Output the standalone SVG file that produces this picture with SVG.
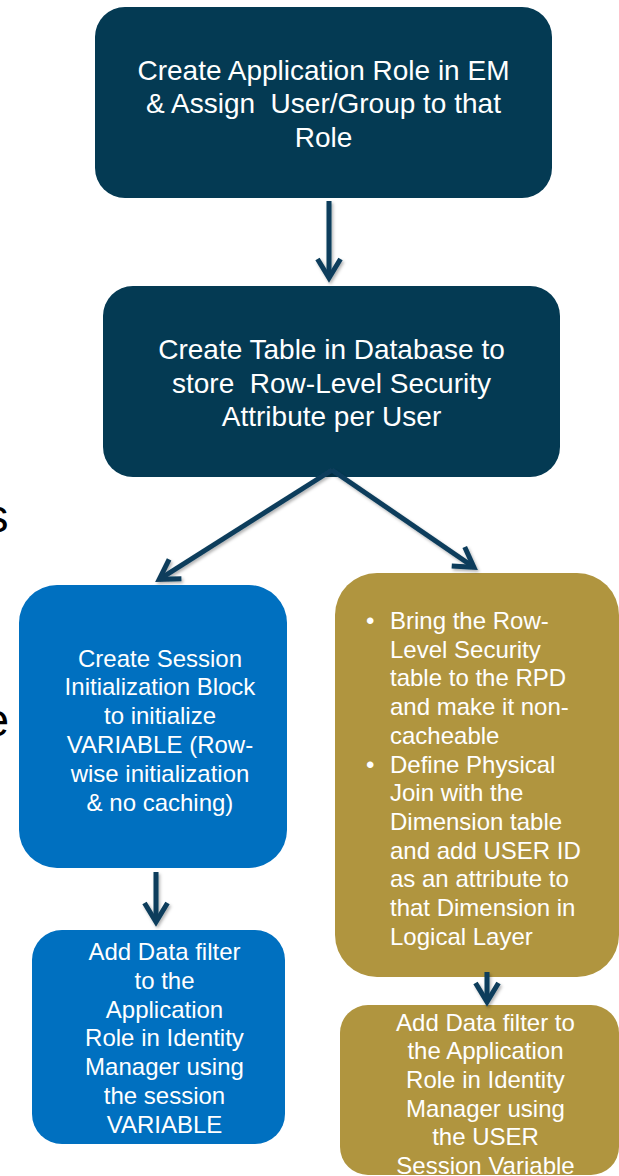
<svg xmlns="http://www.w3.org/2000/svg" width="619" height="1176" viewBox="0 0 619 1176">
  <defs>
    <style>
      .navy { fill: #043A53; }
      .blue { fill: #0070C0; }
      .gold { fill: #B0953F; }
      .t { font-family: "Liberation Sans", Arial, sans-serif; fill: #FFFFFF; white-space: pre; }
      .t28 { font-size: 28px; text-anchor: middle; }
      .t24c { font-size: 24px; text-anchor: middle; }
      .t24 { font-size: 24px; }
      .edge { fill: none; stroke: #0B3D5B; stroke-width: 5; marker-end: url(#chevron); }
      .stray { font-family: "Liberation Sans", Arial, sans-serif; font-size: 46px; fill: #000000; text-anchor: end; }
    </style>
    <!-- open V arrowhead; its outer miter tip sits 5px past the line end -->
    <marker id="chevron" markerUnits="userSpaceOnUse" viewBox="-30 -15 32 30" markerWidth="32" markerHeight="30" refX="-5" refY="0" orient="auto">
      <path d="M-24,-11.5 L-5,0 L-24,11.5" fill="none" stroke="#0B3D5B" stroke-width="5" stroke-linejoin="miter" stroke-miterlimit="10"/>
    </marker>
    <filter id="soft" x="-20%" y="-20%" width="140%" height="140%">
      <feDropShadow dx="1.5" dy="2" stdDeviation="1.5" flood-color="#000000" flood-opacity="0.3"/>
    </filter>
  </defs>

  <rect width="619" height="1176" fill="#FFFFFF"/>

  <!-- letters of neighbouring slide text cut by the left edge -->
  <g id="edge-letters">
    <text class="stray" x="8.6" y="532">s</text>
    <text class="stray" x="9" y="736">e</text>
  </g>

  <g id="node-app-role">
    <rect class="navy" x="95" y="7" width="457" height="191" rx="30" ry="30"/>
    <text class="t t28" x="323.5" y="79.5">Create Application Role in EM</text>
    <text class="t t28" x="323.5" y="113">&amp; Assign  User/Group to that</text>
    <text class="t t28" x="323.5" y="146.5">Role</text>
  </g>

  <g id="node-security-table">
    <rect class="navy" x="103" y="286" width="457" height="191" rx="30" ry="30"/>
    <text class="t t28" x="331.5" y="359">Create Table in Database to</text>
    <text class="t t28" x="331.5" y="392.5">store  Row-Level Security</text>
    <text class="t t28" x="331.5" y="426">Attribute per User</text>
  </g>

  <g id="node-init-block">
    <rect class="blue" x="19" y="585" width="268" height="283" rx="38" ry="38"/>
    <text class="t t24c" x="160" y="666.5">Create Session</text>
    <text class="t t24c" x="160" y="695.3">Initialization Block</text>
    <text class="t t24c" x="160" y="724.1">to initialize</text>
    <text class="t t24c" x="160" y="752.9">VARIABLE (Row-</text>
    <text class="t t24c" x="160" y="781.7">wise initialization</text>
    <text class="t t24c" x="160" y="810.5">&amp; no caching)</text>
  </g>

  <g id="node-rpd">
    <rect class="gold" x="335" y="573" width="284" height="404" rx="42" ry="42"/>
    <text class="t t24" x="366" y="629">•</text>
    <text class="t t24" x="390" y="629">Bring the Row-</text>
    <text class="t t24" x="390" y="657.7">Level Security</text>
    <text class="t t24" x="390" y="686.4">table to the RPD</text>
    <text class="t t24" x="390" y="715.1">and make it non-</text>
    <text class="t t24" x="390" y="743.8">cacheable</text>
    <text class="t t24" x="366" y="772.5">•</text>
    <text class="t t24" x="390" y="772.5">Define Physical</text>
    <text class="t t24" x="390" y="801.2">Join with the</text>
    <text class="t t24" x="390" y="829.9">Dimension table</text>
    <text class="t t24" x="390" y="858.6">and add USER ID</text>
    <text class="t t24" x="390" y="887.3">as an attribute to</text>
    <text class="t t24" x="390" y="916">that Dimension in</text>
    <text class="t t24" x="390" y="944.7">Logical Layer</text>
  </g>

  <g id="node-filter-session">
    <rect class="blue" x="32" y="930" width="253" height="214" rx="30" ry="30"/>
    <text class="t t24c" x="164.5" y="960">Add Data filter</text>
    <text class="t t24c" x="164.5" y="988.8">to the</text>
    <text class="t t24c" x="164.5" y="1017.6">Application</text>
    <text class="t t24c" x="164.5" y="1046.4">Role in Identity</text>
    <text class="t t24c" x="164.5" y="1075.2">Manager using</text>
    <text class="t t24c" x="164.5" y="1104">the session</text>
    <text class="t t24c" x="164.5" y="1132.8">VARIABLE</text>
  </g>

  <g id="node-filter-user">
    <rect class="gold" x="340" y="1005" width="279" height="170" rx="28" ry="28"/>
    <text class="t t24c" x="485.5" y="1030.5">Add Data filter to</text>
    <text class="t t24c" x="485.5" y="1059.2">the Application</text>
    <text class="t t24c" x="485.5" y="1087.9">Role in Identity</text>
    <text class="t t24c" x="485.5" y="1116.6">Manager using</text>
    <text class="t t24c" x="485.5" y="1145.3">the USER</text>
    <text class="t t24c" x="485.5" y="1174">Session Variable</text>
  </g>

  <g id="connectors" filter="url(#soft)">
    <path class="edge" d="M329,201 L329,278"/>
    <path class="edge" d="M332,470 L159.2,579.3"/>
    <path class="edge" d="M332,470 L473.9,567.2"/>
    <path class="edge" d="M156,872 L156,922"/>
    <path class="edge" d="M487,972 L487,1002"/>
  </g>
</svg>
